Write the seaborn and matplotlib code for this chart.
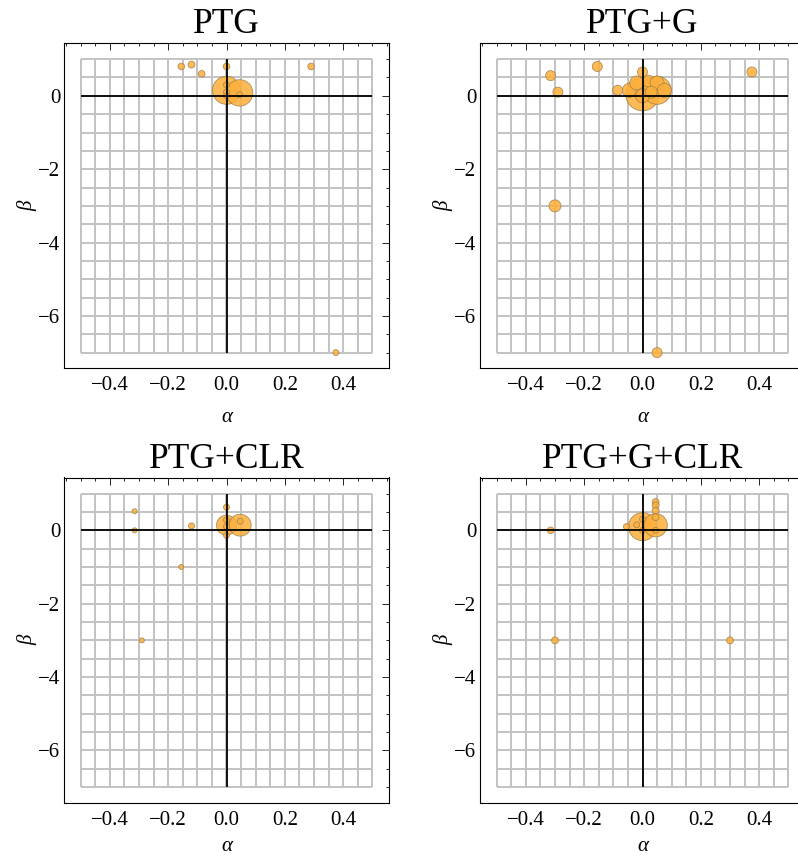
import numpy as np
import pandas as pd
import matplotlib
matplotlib.use("Agg")
import matplotlib.pyplot as plt
from matplotlib.ticker import MultipleLocator
import seaborn as sns

# panel titles
titles = ["PTG", "PTG+G", "PTG+CLR", "PTG+G+CLR"]

# bubble data (alpha, beta, relative bubble area)
ptg_alpha = [0.0, 0.045, -0.155, -0.12, -0.085, 0.0, 0.29, 0.0, 0.0, 0.0, 0.045, 0.375]
ptg_beta = [0.15, 0.08, 0.8, 0.85, 0.6, 0.8, 0.8, 0.3, 0.1, 0.0, 0.03, -7.0]
ptg_size = [18.0, 16.0, 1.0, 1.1, 1.0, 1.0, 1.0, 0.8, 0.8, 0.8, 0.8, 0.8]

ptgg_alpha = [0.0, 0.05, -0.045, -0.02, 0.02, 0.05, 0.075, 0.0, 0.03,
              -0.315, -0.29, -0.155, 0.0, 0.375, -0.085, -0.3, 0.05]
ptgg_beta = [0.05, 0.15, 0.15, 0.35, 0.4, 0.35, 0.15, 0.0, 0.1,
             0.55, 0.1, 0.8, 0.65, 0.65, 0.15, -3.0, -7.0]
ptgg_size = [26.0, 18.0, 4.5, 4.5, 3.3, 4.5, 4.5, 4.5, 3.3,
             2.3, 2.3, 2.3, 2.3, 2.3, 2.3, 3.3, 2.3]

clr_alpha = [0.0, 0.047, 0.0, 0.0, 0.047, 0.0, 0.0, -0.12, -0.155, -0.315, -0.315, -0.29]
clr_beta = [0.14, 0.14, 0.28, -0.14, 0.25, 0.1, 0.63, 0.12, -1.0, 0.52, 0.0, -3.0]
clr_size = [9.2, 11.0, 0.8, 0.8, 0.8, 0.8, 0.83, 0.83, 0.57, 0.57, 0.57, 0.57]

gclr_alpha = [0.0, 0.045, 0.0, 0.0, 0.045, -0.02, 0.045, 0.045, 0.045, 0.045,
              -0.055, -0.315, -0.3, 0.3]
gclr_beta = [0.1, 0.14, 0.3, 0.0, 0.0, 0.15, 0.77, 0.68, 0.54, 0.36,
             0.1, 0.0, -3.0, -3.0]
gclr_size = [18.0, 12.5, 0.8, 0.8, 0.8, 0.8, 1.1, 1.1, 1.1, 1.1,
             0.83, 1.0, 1.1, 1.1]

panels = [
    (ptg_alpha, ptg_beta, ptg_size),
    (ptgg_alpha, ptgg_beta, ptgg_size),
    (clr_alpha, clr_beta, clr_size),
    (gclr_alpha, gclr_beta, gclr_size),
]

sns.set_style("white")
plt.rcParams['font.family'] = ['Liberation Serif', 'DejaVu Serif']
plt.rcParams['axes.unicode_minus'] = True
plt.rcParams['text.color'] = 'black'
plt.rcParams['axes.labelcolor'] = 'black'
plt.rcParams['xtick.color'] = 'black'
plt.rcParams['ytick.color'] = 'black'

W, H = 798, 857
fig = plt.figure(figsize=(W / 100, H / 100), dpi=100)

# axes frames in pixels: (left, top)
frames = [(64, 43), (480, 43), (64, 477.5), (480, 477.5)]
box = 325

zmin = min(min(p[2]) for p in panels)
zmax = max(max(p[2]) for p in panels)
k = 22.6  # points^2 per unit of relative area

grid_x = np.arange(-0.5, 0.5001, 0.05)
grid_y = np.arange(-7.0, 1.0001, 0.5)

for i, ((left, top), title, (a, b, z)) in enumerate(zip(frames, titles, panels)):
    ax = fig.add_axes([left / W, 1 - (top + box) / H, box / W, box / H])
    df = pd.DataFrame({"alpha": a, "beta": b, "z": z})

    ax.vlines(grid_x, -7, 1, color="#C2C2C2", lw=1.4, zorder=1)
    ax.hlines(grid_y, -0.5, 0.5, color="#C2C2C2", lw=1.4, zorder=1)

    sns.scatterplot(data=df, x="alpha", y="beta", size="z",
                    sizes=(zmin * k, zmax * k), size_norm=(zmin, zmax),
                    color="#FDAF3A", alpha=0.85, edgecolor="#A0804A",
                    linewidth=0.6, legend=False, ax=ax, zorder=3)

    ax.vlines(0, -7, 1, color="black", lw=1.3, zorder=4)
    ax.hlines(0, -0.5, 0.5, color="black", lw=1.3, zorder=4)

    ax.set_xlim(-0.557, 0.557)
    ax.set_ylim(-7.42, 1.44)
    ax.xaxis.set_major_locator(MultipleLocator(0.2))
    ax.xaxis.set_minor_locator(MultipleLocator(0.05))
    ax.yaxis.set_major_locator(MultipleLocator(2))
    ax.yaxis.set_minor_locator(MultipleLocator(0.5))
    ax.tick_params(which="both", direction="in", top=True, right=True,
                   color="black", width=0.6, labelsize=15)
    ax.tick_params(which="major", length=5)
    ax.tick_params(which="minor", length=2.5)
    ax.tick_params(axis="x", pad=6)
    ax.tick_params(axis="y", pad=2.5)
    ax.set_xticks([-0.4, -0.2, 0.0, 0.2, 0.4])
    ax.set_xticklabels(["\u22120.4", "\u22120.2", "0.0", "0.2", "0.4"])
    ax.set_yticks([-6, -4, -2, 0])
    ax.set_yticklabels(["\u22126", "\u22124", "\u22122", "0"])
    for s in ax.spines.values():
        s.set_visible(True)
        s.set_color("black")
        s.set_linewidth(0.8)

    # bottom row sits right at the figure edge, keep its label inside
    ax.set_xlabel("α", fontsize=15, style="italic", labelpad=9 if i < 2 else 5)
    ax.set_ylabel("β", fontsize=15, style="italic", labelpad=1)
    ax.set_title(title, fontsize=25.5, pad=7)

fig.savefig("out.png", dpi=100)
